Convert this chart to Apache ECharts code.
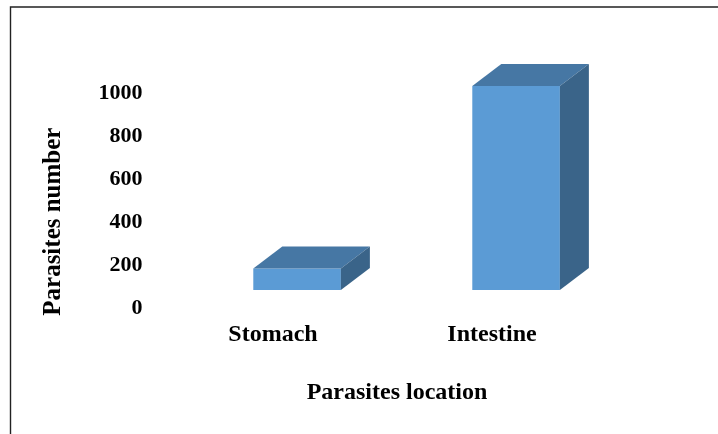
<!DOCTYPE html>
<html>
<head>
<meta charset="utf-8">
<script src="https://cdn.jsdelivr.net/npm/echarts@6/dist/echarts.min.js"></script>
<style>
  html, body { margin: 0; padding: 0; background: #fff; }
  #chart { width: 718px; height: 434px; }
</style>
</head>
<body>
<div id="chart"></div>
<script>
const categories = ['Stomach', 'Intestine'];
const parasiteCounts = [100, 950];
const yTicks = [0, 200, 400, 600, 800, 1000];

const serif = "'Liberation Serif', 'Times New Roman', serif";

// pseudo-3D column: front face + top + right side
const renderColumn = (params, api) => {
  const base = api.coord([api.value(0), 0]);
  const top = api.coord([api.value(0), api.value(1)]);
  const band = api.size([1, 0])[0];
  const w = band * 0.4;
  const lift = 18;
  const dx = 29;
  const dy = 22;
  const x0 = base[0] - band * 0.09;
  const x1 = x0 + w;
  const yb = base[1] - lift;
  const yt = top[1] - lift;
  return {
    type: 'group',
    children: [
      {
        type: 'rect',
        shape: { x: x0, y: yt, width: w, height: yb - yt },
        style: { fill: '#5b9bd5' }
      },
      {
        type: 'polygon',
        shape: { points: [[x0, yt], [x0 + dx, yt - dy], [x1 + dx, yt - dy], [x1, yt]] },
        style: { fill: '#4677a4' }
      },
      {
        type: 'polygon',
        shape: { points: [[x1, yt], [x1 + dx, yt - dy], [x1 + dx, yb - dy], [x1, yb]] },
        style: { fill: '#3a6489' }
      }
    ]
  };
};

const chart = echarts.init(document.getElementById('chart'));
const option = {
  animation: false,
  backgroundColor: '#fff',
  graphic: [
    {
      type: 'rect',
      shape: { x: 10.5, y: 7, width: 800, height: 500 },
      style: { fill: 'none', stroke: '#222', lineWidth: 1.4 }
    }
  ],
  grid: { left: 163.5, right: 116.5, top: 93.3, bottom: 126 },
  xAxis: {
    type: 'category',
    data: categories,
    axisLine: { show: false },
    axisTick: { show: false },
    axisLabel: {
      margin: 15,
      fontFamily: serif,
      fontWeight: 'bold',
      fontSize: 24,
      color: '#000'
    },
    name: 'Parasites location',
    nameLocation: 'middle',
    nameGap: 73,
    nameTextStyle: {
      fontFamily: serif,
      fontWeight: 'bold',
      fontSize: 24,
      color: '#000',
      padding: [0, 0, 0, 29]
    }
  },
  yAxis: {
    type: 'value',
    min: yTicks[0],
    max: yTicks[yTicks.length - 1],
    interval: 200,
    axisLine: { show: false },
    axisTick: { show: false },
    splitLine: { show: false },
    axisLabel: {
      margin: 21,
      fontFamily: serif,
      fontWeight: 'bold',
      fontSize: 22,
      color: '#000',
      formatter: (value) => String(value)
    },
    name: 'Parasites number',
    nameLocation: 'middle',
    nameGap: 97,
    nameRotate: 90,
    nameTextStyle: {
      fontFamily: serif,
      fontWeight: 'bold',
      fontSize: 25,
      color: '#000',
      padding: [0, 42, 0, 0]
    }
  },
  series: [
    {
      type: 'custom',
      renderItem: renderColumn,
      clip: false,
      encode: { x: 0, y: 1 },
      data: parasiteCounts.map((v, i) => [i, v])
    }
  ]
};
chart.setOption(option);
</script>
</body>
</html>
